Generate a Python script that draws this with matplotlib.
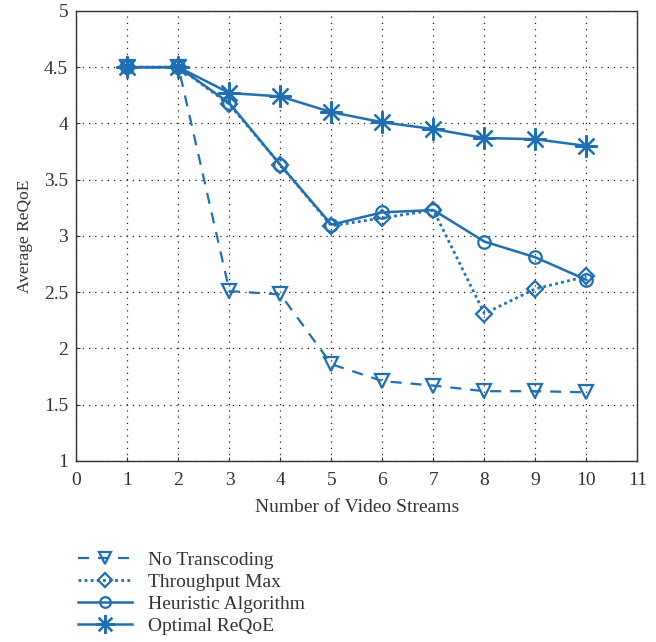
import matplotlib
matplotlib.use("Agg")
from matplotlib import pyplot as plt

plt.rcParams["font.family"] = ["Liberation Serif", "DejaVu Serif"]

streams = [1, 2, 3, 4, 5, 6, 7, 8, 9, 10]
no_transcoding = [4.50, 4.50, 2.51, 2.48, 1.86, 1.71, 1.67, 1.62, 1.62, 1.61]
throughput_max = [4.50, 4.50, 4.17, 3.63, 3.09, 3.16, 3.23, 2.31, 2.53, 2.64]
heuristic = [4.50, 4.50, 4.18, 3.63, 3.10, 3.21, 3.23, 2.95, 2.81, 2.61]
optimal = [4.50, 4.50, 4.27, 4.24, 4.10, 4.01, 3.95, 3.87, 3.86, 3.80]

color = "#1f6fb2"
text_color = "#333333"

fig = plt.figure(figsize=(6.56, 6.42), dpi=100)
ax = fig.add_axes([0.1166, 0.282, 0.855, 0.701])

ax.plot(streams, no_transcoding, linestyle=(0, (5, 4)), color=color, lw=1.6,
        marker="v", ms=10, mfc="none", mew=1.6, label="No Transcoding")
ax.plot(streams, throughput_max, linestyle=(0, (1, 1.2)), color=color, lw=2.0,
        marker="D", ms=8, mfc="none", mew=1.6, label="Throughput Max")
ax.plot(streams, heuristic, linestyle="-", color=color, lw=1.8,
        marker="o", ms=9, mfc="none", mew=1.6, label="Heuristic Algorithm")
ax.plot(streams, optimal, linestyle="-", color=color, lw=1.8,
        marker=(8, 2, 0), ms=16, mew=1.6, label="Optimal ReQoE")

ax.set_xlim(0, 11)
ax.set_ylim(1, 5)
ax.set_xticks(range(0, 12))
ax.set_yticks([1, 1.5, 2, 2.5, 3, 3.5, 4, 4.5, 5])
ax.set_yticklabels(["1", "1.5", "2", "2.5", "3", "3.5", "4", "4.5", "5"])
ax.grid(True, linestyle=(0, (1, 4)), color="#222222", lw=0.9)
ax.tick_params(direction="in", length=3, labelsize=14, colors=text_color, pad=6)
ax.tick_params(axis="x", pad=8)
for s in ax.spines.values():
    s.set_color(text_color)
    s.set_linewidth(1.0)

ax.set_xlabel("Number of Video Streams", fontsize=14, color=text_color, labelpad=7)
ax.set_ylabel("Average ReQoE", fontsize=12.5, color=text_color, labelpad=8)

leg = fig.legend(loc="upper left", bbox_to_anchor=(0.104, 0.156), frameon=False,
                 fontsize=14, handlelength=2.8, labelspacing=0.22, borderpad=0,
                 handletextpad=0.8, markerscale=0.85)
for t in leg.get_texts():
    t.set_color(text_color)

fig.savefig("out.png", dpi=100)
